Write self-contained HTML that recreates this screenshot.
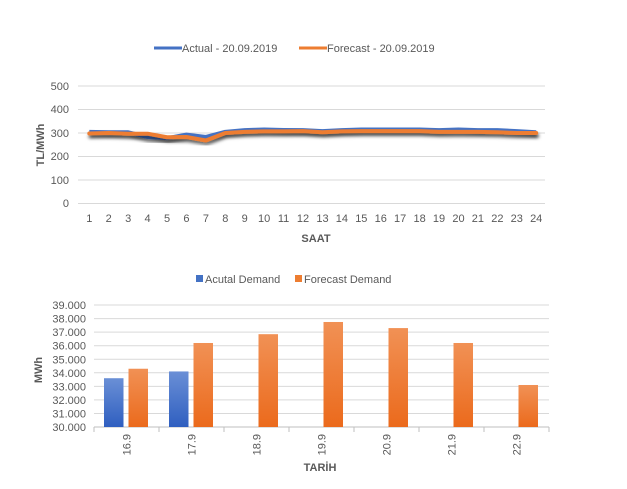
<!DOCTYPE html>
<html><head><meta charset="utf-8"><style>
html,body{margin:0;padding:0;background:#fff;}
svg text{font-family:"Liberation Sans",sans-serif;fill:#595959;}
</style></head><body>
<svg width="627" height="484" xmlns="http://www.w3.org/2000/svg">
<defs>
<linearGradient id="gb" x1="0" y1="0" x2="0" y2="1"><stop offset="0" stop-color="#6a8fd6"/><stop offset="1" stop-color="#2f5fc0"/></linearGradient>
<linearGradient id="go" x1="0" y1="0" x2="0" y2="1"><stop offset="0" stop-color="#f19155"/><stop offset="1" stop-color="#eb6a1c"/></linearGradient>
<filter id="sh" x="-5%" y="-50%" width="110%" height="200%"><feDropShadow dx="1" dy="3" stdDeviation="1.5" flood-color="#000" flood-opacity="0.55"/></filter>
</defs>
<!-- legend top -->
<line x1="154" y1="48" x2="182" y2="48" stroke="#4472c4" stroke-width="3"/>
<text x="182" y="52" font-size="11">Actual - 20.09.2019</text>
<line x1="299" y1="48" x2="327" y2="48" stroke="#ed7d31" stroke-width="3"/>
<text x="327" y="52" font-size="11">Forecast - 20.09.2019</text>
<!-- top grid -->
<g stroke="#d9d9d9" stroke-width="1">
<line x1="78" y1="86" x2="545" y2="86"/><line x1="78" y1="109.5" x2="545" y2="109.5"/><line x1="78" y1="133" x2="545" y2="133"/><line x1="78" y1="156.5" x2="545" y2="156.5"/><line x1="78" y1="180" x2="545" y2="180"/><line x1="78" y1="203.5" x2="545" y2="203.5"/>
</g>
<g font-size="11" text-anchor="end">
<text x="69" y="90">500</text><text x="69" y="113">400</text><text x="69" y="137">300</text><text x="69" y="160">200</text><text x="69" y="184">100</text><text x="69" y="207">0</text>
</g>
<text transform="translate(44,145) rotate(-90)" font-size="11" font-weight="bold" text-anchor="middle">TL/MWh</text>
<g font-size="11" text-anchor="middle" id="xl"></g>
<text x="316" y="242" font-size="11" font-weight="bold" text-anchor="middle">SAAT</text>
<g id="lines"></g>
<!-- bottom legend -->
<rect x="196" y="275" width="7" height="7" fill="#4472c4"/>
<text x="205" y="283" font-size="11">Acutal Demand</text>
<rect x="295" y="275" width="7" height="7" fill="#ed7d31"/>
<text x="304" y="283" font-size="11">Forecast Demand</text>
<g id="bg" stroke="#d9d9d9" stroke-width="1"></g>
<g id="bt" font-size="11" text-anchor="end"></g>
<g id="bars"></g>
<text transform="translate(42,370) rotate(-90)" font-size="11" font-weight="bold" text-anchor="middle">MWh</text>
<text x="320" y="471" font-size="11" font-weight="bold" text-anchor="middle">TARİH</text>
<g id="cx" font-size="11"></g>
</svg>
<script>
var NS="http://www.w3.org/2000/svg";
function el(p,t,a,tx){var e=document.createElementNS(NS,t);for(var k in a)e.setAttribute(k,a[k]);if(tx!==undefined)e.textContent=tx;document.getElementById(p).appendChild(e);return e;}
var X=function(i){return 89.3+i*19.43;},Y=function(v){return 203.5-v*0.235;};
for(var i=0;i<24;i++)el("xl","text",{x:X(i),y:222},String(i+1));
var a=[305,303,303,283,278,293,283,305,312,315,313,312,308,312,315,315,315,315,312,315,312,312,308,303];
var f=[298,300,297,297,282,283,268,300,305,307,307,308,303,307,308,308,308,308,305,305,305,303,300,300];
function pts(d){return d.map(function(v,i){return X(i)+","+Y(v)}).join(" ");}
el("lines","polyline",{points:pts(a),fill:"none",stroke:"#4472c4","stroke-width":4,"stroke-linejoin":"round",filter:"url(#sh)"});
el("lines","polyline",{points:pts(f),fill:"none",stroke:"#ed7d31","stroke-width":4,"stroke-linejoin":"round","stroke-linecap":"round",filter:"url(#sh)"});
var BY=function(v){return 427-(v-30000)/1000*13.55;};
for(var k=0;k<=9;k++){var y=BY(30000+k*1000);el("bg","line",{x1:94,y1:y,x2:549,y2:y});el("bt","text",{x:86,y:y+4},(30+k)+".000");}
el("bg","line",{x1:94,y1:427,x2:549,y2:427,stroke:"#bfbfbf"});
var cats=["16.9","17.9","18.9","19.9","20.9","21.9","22.9"],o=[34300,36200,36850,37750,37300,36200,33100],b=[33600,34100];
for(var c=0;c<7;c++){var x0=94+c*65;
el("bg","line",{x1:x0,y1:427,x2:x0,y2:432,stroke:"#bfbfbf"});
if(c<2)el("bars","rect",{x:x0+10,y:BY(b[c]),width:19.5,height:427-BY(b[c]),fill:"url(#gb)"});
el("bars","rect",{x:x0+34.5,y:BY(o[c]),width:19.5,height:427-BY(o[c]),fill:"url(#go)"});
var xc=x0+32.5;el("cx","text",{transform:"translate("+(xc+4)+",434) rotate(-90)","text-anchor":"end"},cats[c]);}
el("bg","line",{x1:549,y1:427,x2:549,y2:432,stroke:"#bfbfbf"});
</script>
</body></html>
